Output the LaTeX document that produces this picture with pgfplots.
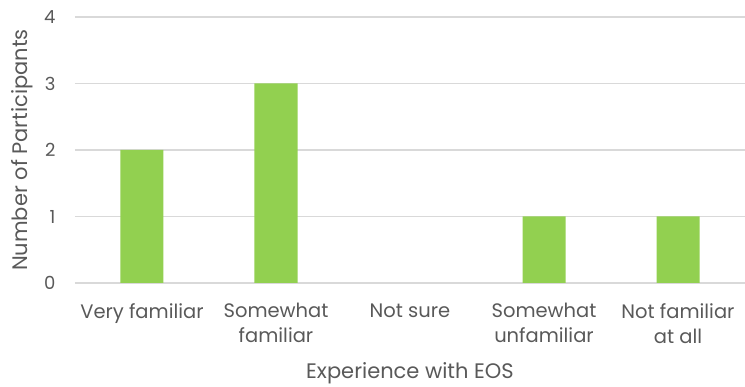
\documentclass[border=0pt]{standalone}
\usepackage{fontspec}
\setmainfont{Poppins}
\usepackage{pgfplots}
\pgfplotsset{compat=1.18}
\definecolor{txt}{HTML}{595959}
\definecolor{grd}{HTML}{D9D9D9}
\definecolor{bar}{HTML}{92D050}
\begin{document}
\begin{tikzpicture}
\begin{axis}[
  scale only axis, width=670pt, height=266pt,
  anchor=south west, at={(0,0)},
  xmin=-0.5, xmax=4.5, ymin=0, ymax=4,
  ytick={0,1,2,3,4},
  xtick={0,1,2,3,4},
  xticklabels={Very familiar,{Somewhat\\familiar},Not sure,{Somewhat\\unfamiliar},{Not familiar\\at all}},
  axis line style={draw=none},
  major tick length=0pt,
  ymajorgrids, grid style={grd, line width=1.8pt},
  xticklabel style={font=\fontsize{19.5}{25}\selectfont, text=txt, align=center, anchor=north, yshift=-17pt},
  yticklabel style={font=\fontsize{18}{22}\selectfont, text=txt, anchor=east, xshift=-16pt},
  /pgf/number format/assume math mode=true,
  ylabel={Number of Participants},
  xlabel={Experience with EOS},
  ylabel style={font=\fontsize{21}{24}\selectfont, text=txt, at={(axis description cs:-0.079,0.5)}, anchor=center, rotate=0},
  xlabel style={font=\fontsize{21}{24}\selectfont, text=txt, at={(axis description cs:0.5,-0.34)}, anchor=center},
  clip=false,
]
\addplot[ybar, bar width=43pt, fill=bar, draw=none] coordinates {(0,2) (1,3) (3,1) (4,1)};
\end{axis}
\pgfresetboundingbox
\path (-75pt,-104pt) rectangle (670pt,283pt);
\end{tikzpicture}
\end{document}
